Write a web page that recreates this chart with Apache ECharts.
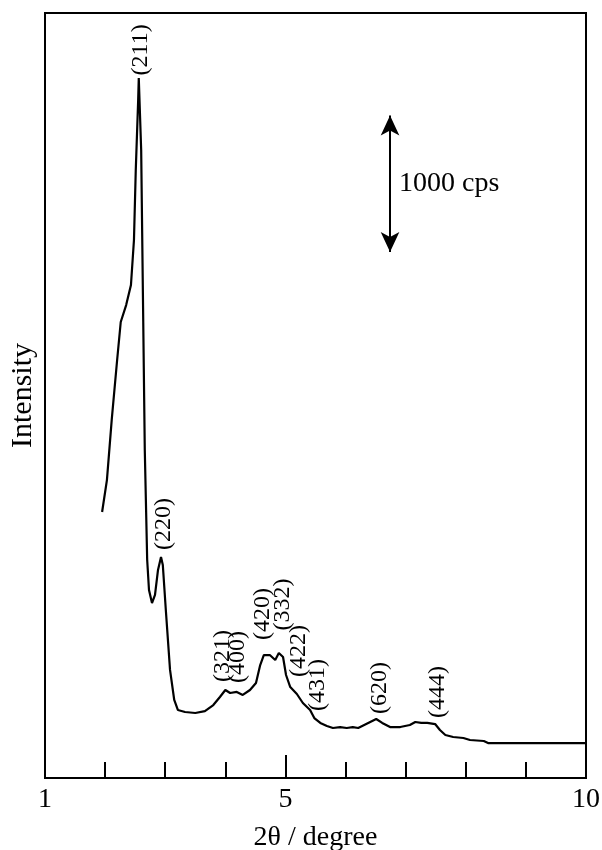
<!DOCTYPE html>
<html>
<head>
<meta charset="utf-8">
<script src="https://cdn.jsdelivr.net/npm/echarts@6/dist/echarts.min.js"></script>
<style>
  html, body { margin: 0; padding: 0; background: #fff; }
  #chart { width: 602px; height: 850px; }
</style>
</head>
<body>
<div id="chart"></div>
<script>
// XRD pattern, 2theta (degree) vs intensity (cps)
var twoTheta = [1.95, 2.03, 2.11, 2.20, 2.26, 2.35, 2.43, 2.48, 2.51, 2.55, 2.56,
    2.60, 2.63, 2.66, 2.70, 2.73, 2.78, 2.83, 2.88, 2.93, 2.96, 3.01, 3.08, 3.15,
    3.21, 3.33, 3.50, 3.66, 3.80, 3.91, 4.00, 4.08, 4.19, 4.29, 4.41, 4.51, 4.58,
    4.64, 4.74, 4.83, 4.89, 4.96, 5.01, 5.08, 5.19, 5.29, 5.41, 5.48, 5.58, 5.69,
    5.79, 5.91, 6.02, 6.12, 6.21, 6.31, 6.41, 6.51, 6.61, 6.74, 6.91, 7.07, 7.16,
    7.26, 7.36, 7.49, 7.57, 7.66, 7.79, 7.96, 8.07, 8.30, 8.37, 10.0];
var counts = [1947, 2181, 2621, 3060, 3338, 3462, 3609, 3938, 4451, 4963, 5124,
    4597, 3499, 2401, 1596, 1376, 1281, 1340, 1523, 1618, 1559, 1230, 791, 571,
    498, 483, 476, 490, 534, 593, 644, 622, 630, 608, 644, 695, 827,
    900, 900, 864, 915, 886, 754, 666, 615, 549, 498, 439, 403, 381,
    366, 373, 366, 373, 366, 388, 410, 432, 403, 373, 373, 388, 410,
    403, 403, 395, 351, 315, 300, 293, 278, 271, 256, 256];

var peakNames = ['(211)', '(220)', '(321)', '(400)', '(420)', '(332)', '(422)', '(431)', '(620)', '(444)'];
var peakX = [2.59, 2.98, 3.96, 4.20, 4.62, 4.95, 5.22, 5.54, 6.56, 7.53];
var peakY = [5330, 1860, 893, 886, 1200, 1270, 930, 681, 659, 630];

var xLabels = [1, 5, 10];
var xMinorTicks = [2, 3, 4, 6, 7, 8, 9];
var xMajorTicks = [5];

// scale bar: 1000 cps
var barX = 6.74;
var barFrom = 3850;
var barTo = 4850;

var serif = 'Liberation Serif';

var myChart = echarts.init(document.getElementById('chart'));

var pattern = [];
for (var i = 0; i < twoTheta.length; i++) {
    pattern.push([twoTheta[i], counts[i]]);
}
var peaks = [];
for (var j = 0; j < peakNames.length; j++) {
    peaks.push({value: [peakX[j], peakY[j]], name: peakNames[j]});
}

var option = {
    animation: false,
    grid: {
        left: 45, right: 16, top: 13, bottom: 72,
        outerBoundsMode: 'none',
        show: true,
        borderColor: '#000',
        borderWidth: 2
    },
    xAxis: [
        {
            type: 'value',
            min: 1, max: 10, interval: 1,
            splitLine: {show: false},
            axisLine: {lineStyle: {color: '#000', width: 2}},
            axisTick: {
                inside: true, length: 16, customValues: xMinorTicks,
                lineStyle: {color: '#000', width: 2}
            },
            axisLabel: {
                customValues: xLabels,
                color: '#000', fontFamily: serif, fontSize: 28, margin: 8
            },
            name: '2θ / degree',
            nameLocation: 'middle',
            nameGap: 46,
            nameTextStyle: {color: '#000', fontFamily: serif, fontSize: 28}
        },
        {
            type: 'value',
            position: 'bottom',
            min: 1, max: 10, interval: 1,
            splitLine: {show: false},
            axisLine: {show: false},
            axisTick: {
                inside: true, length: 23, customValues: xMajorTicks,
                lineStyle: {color: '#000', width: 2}
            },
            axisLabel: {show: false}
        }
    ],
    yAxis: {
        type: 'value',
        min: 0, max: 5600,
        splitLine: {show: false},
        axisLine: {show: true, lineStyle: {color: '#000', width: 2}},
        axisTick: {show: false},
        axisLabel: {show: false},
        name: 'Intensity',
        nameLocation: 'middle',
        nameRotate: 90,
        nameGap: 7,
        nameTextStyle: {color: '#000', fontFamily: serif, fontSize: 30}
    },
    series: [
        {
            type: 'line',
            data: pattern,
            showSymbol: false,
            smooth: false,
            lineStyle: {color: '#000', width: 2.2},
            markLine: {
                silent: true,
                symbol: ['arrow', 'arrow'],
                symbolSize: [14, 20],
                label: {show: false},
                lineStyle: {color: '#000', width: 2, type: 'solid'},
                data: [[{coord: [barX, barFrom]}, {coord: [barX, barTo]}]]
            }
        },
        {
            type: 'scatter',
            data: peaks,
            symbolSize: 0,
            itemStyle: {opacity: 1},
            label: {
                show: true,
                position: 'inside',
                rotate: 90,
                formatter: '{b}',
                color: '#000',
                fontFamily: serif,
                fontSize: 24
            }
        },
        {
            type: 'scatter',
            data: [{value: [barX + 0.15, (barFrom + barTo) / 2], name: '1000 cps'}],
            symbolSize: 0,
            itemStyle: {opacity: 1},
            label: {
                show: true,
                position: 'right',
                distance: 0,
                formatter: '{b}',
                color: '#000',
                fontFamily: serif,
                fontSize: 28
            }
        }
    ]
};
myChart.setOption(option);
window.onresize = myChart.resize;
</script>
</body>
</html>
